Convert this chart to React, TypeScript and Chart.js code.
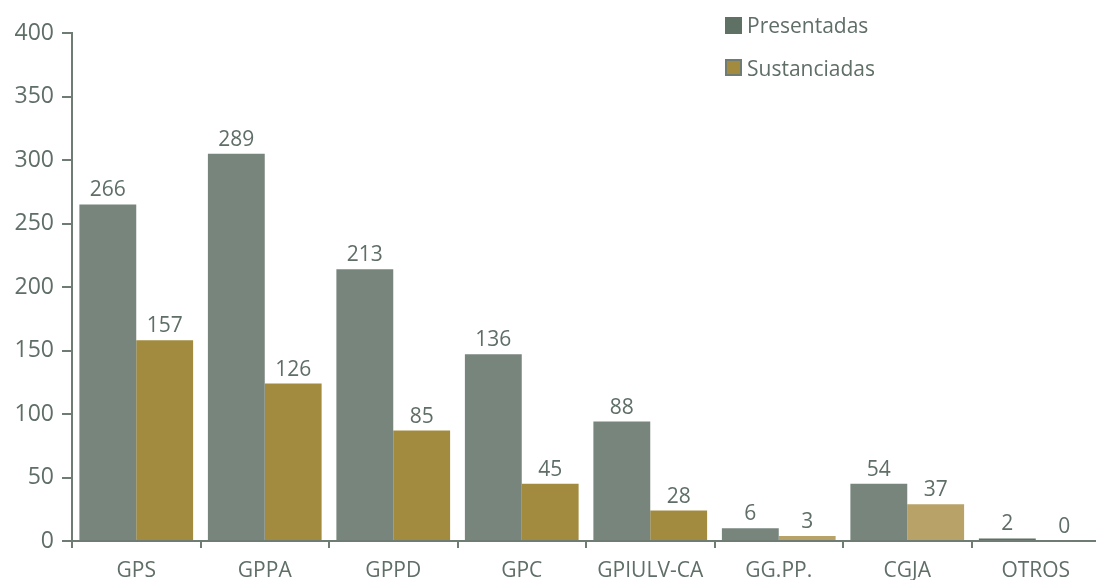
import React, { useEffect, useRef } from "react";
import { Chart, registerables } from "chart.js";

Chart.register(...registerables);

const categories = ["GPS", "GPPA", "GPPD", "GPC", "GPIULV-CA", "GG.PP.", "CGJA", "OTROS"];
const seriesNames = ["Presentadas", "Sustanciadas"];
// bar heights as drawn in the picture
const presentadasBars = [265, 305, 214, 147, 94, 10, 45, 2];
const sustanciadasBars = [158, 124, 87, 45, 24, 4, 29, 0];
// printed value labels
const presentadasLabels = ["266", "289", "213", "136", "88", "6", "54", "2"];
const sustanciadasLabels = ["157", "126", "85", "45", "28", "3", "37", "0"];
const yTicks = [0, 50, 100, 150, 200, 250, 300, 350, 400];

const FONT = "'Open Sans', 'Noto Sans', sans-serif";
const TEXT = "#5f6e66";
const AXIS = "#6e7c74";
const GREY = "#78857d";
const GOLD = "#a28b3e";
const LIGHTGOLD = "#b8a268";

export default function App() {
  const ref = useRef<HTMLCanvasElement | null>(null);
  useEffect(() => {
    document.body.style.margin = "0";
    document.body.style.overflow = "hidden";
    const labelsBySeries = [presentadasLabels, sustanciadasLabels];
    const valueLabels = {
      id: "valueLabels",
      afterDatasetsDraw(chart: any) {
        const ctx = chart.ctx;
        ctx.save();
        ctx.font = `21px ${FONT}`;
        ctx.fillStyle = TEXT;
        ctx.textAlign = "center";
        ctx.textBaseline = "alphabetic";
        chart.data.datasets.forEach((ds: any, di: number) => {
          const meta = chart.getDatasetMeta(di);
          meta.data.forEach((bar: any, i: number) => {
            ctx.fillText(labelsBySeries[di][i], bar.x, bar.y - 8);
          });
        });
        ctx.restore();
      },
    };
    const customLegend = {
      id: "customLegend",
      afterDraw(chart: any) {
        const ctx = chart.ctx;
        ctx.save();
        ctx.font = `21px ${FONT}`;
        ctx.textBaseline = "alphabetic";
        ctx.textAlign = "left";
        const rows = [
          { fill: "#5f7064", stroke: "#5f7064", top: 17, base: 33 },
          { fill: GOLD, stroke: "#6e7c74", top: 59, base: 76 },
        ];
        rows.forEach((r, i) => {
          ctx.fillStyle = r.stroke;
          ctx.fillRect(725, r.top, 17, 17);
          ctx.fillStyle = r.fill;
          ctx.fillRect(727, r.top + 2, 13, 13);
          ctx.fillStyle = TEXT;
          ctx.fillText(seriesNames[i], 747, r.base);
        });
        ctx.restore();
      },
    };
    const chart = new Chart(ref.current as HTMLCanvasElement, {
      type: "bar",
      data: {
        labels: categories,
        datasets: [
          {
            label: seriesNames[0],
            data: presentadasBars,
            backgroundColor: categories.map((c, i) => (i === 7 ? "#5f6e66" : GREY)),
            categoryPercentage: 0.885,
            barPercentage: 1,
            borderWidth: 0,
          },
          {
            label: seriesNames[1],
            data: sustanciadasBars,
            backgroundColor: categories.map((c, i) => (i === 5 || i === 6 ? LIGHTGOLD : GOLD)),
            categoryPercentage: 0.885,
            barPercentage: 1,
            borderWidth: 0,
          },
        ],
      },
      options: {
        responsive: false,
        animation: false,
        layout: { padding: { top: 33, right: 4, left: 0, bottom: 0 } },
        plugins: {
          legend: { display: false },
          tooltip: { enabled: false },
        },
        scales: {
          x: {
            border: { display: true, color: AXIS, width: 2 },
            grid: {
              display: true,
              drawOnChartArea: false,
              drawTicks: true,
              tickLength: 7,
              tickColor: AXIS,
              lineWidth: 2,
              offset: true,
            },
            ticks: { color: TEXT, font: { family: FONT, size: 21 }, padding: 10 },
            afterFit(scale: any) {
              scale.height = 39;
            },
          },
          y: {
            min: 0,
            max: 400,
            afterBuildTicks(scale: any) {
              scale.ticks = yTicks.map((v) => ({ value: v }));
            },
            border: { display: true, color: AXIS, width: 2 },
            grid: {
              display: true,
              drawOnChartArea: false,
              drawTicks: true,
              tickLength: 10,
              tickColor: AXIS,
              lineWidth: 2,
            },
            ticks: { color: TEXT, font: { family: FONT, size: 23 }, padding: 8 },
            afterFit(scale: any) {
              scale.width = 72;
            },
          },
        },
      },
      plugins: [valueLabels, customLegend],
    });
    return () => chart.destroy();
  }, []);
  return (
    <div style={{ width: 1096, height: 580, overflow: "hidden" }}>
      <canvas ref={ref} width={1104} height={580} style={{ display: "block" }} />
    </div>
  );
}
